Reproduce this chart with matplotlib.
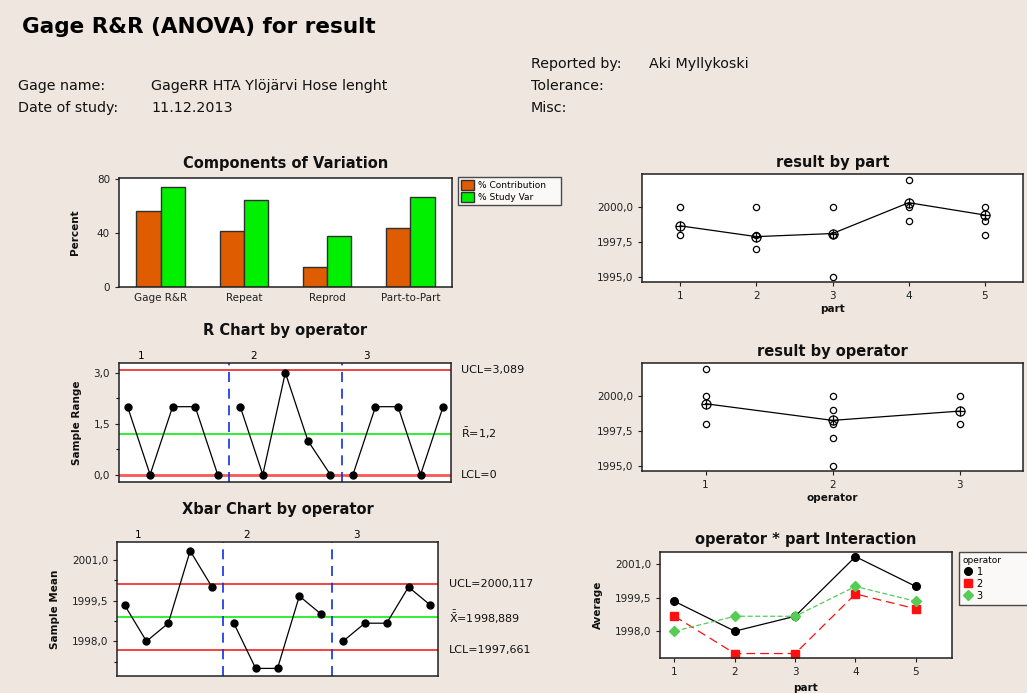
import numpy as np
import matplotlib
matplotlib.use("Agg")
import matplotlib.pyplot as plt
from matplotlib.ticker import FixedLocator, FuncFormatter, NullLocator
from matplotlib.lines import Line2D

plt.rcParams['font.family'] = ['DejaVu Sans']
plt.rcParams['mathtext.fontset'] = 'dejavusans'
plt.rcParams['mathtext.default'] = 'regular'

# ---------------- data ----------------
components = ["Gage R&R", "Repeat", "Reprod", "Part-to-Part"]
pct_contribution = [56.3, 41.4, 14.7, 43.4]
pct_study_var = [74.0, 64.1, 37.4, 66.1]

parts = [1, 2, 3, 4, 5]
operators = [1, 2, 3]
# measurements per operator: one list of 3 trials for each part
op1_values = [[1998, 2000, 2000], [1998, 1998, 1998], [1998, 1998, 2000], [2000, 2002, 2002], [2000, 2000, 2000]]
op2_values = [[1998, 1998, 2000], [1997, 1997, 1997], [1995, 1998, 1998], [1999, 2000, 2000], [1999, 1999, 1999]]
op3_values = [[1998, 1998, 1998], [1998, 1998, 2000], [1998, 1998, 2000], [2000, 2000, 2000], [1998, 2000, 2000]]

r_ucl, r_bar, r_lcl = 3.089, 1.2, 0.0
x_ucl, x_dbar, x_lcl = 2000.117, 1998.889, 1997.661

# ---------------- derived ----------------
meas = np.array([op1_values, op2_values, op3_values], dtype=float)  # op, part, trial
cell_means = meas.mean(axis=2)
cell_ranges = meas.max(axis=2) - meas.min(axis=2)

BG = '#eee6df'
W, H = 1027, 693
fig = plt.figure(figsize=(W / 100, H / 100), dpi=100, facecolor=BG)


def px_axes(x0, y0, x1, y1):
    ax = fig.add_axes([x0 / W, 1 - y1 / H, (x1 - x0) / W, (y1 - y0) / H])
    ax.set_facecolor('white')
    for s in ax.spines.values():
        s.set_linewidth(1.1)
        s.set_color('#202020')
    ax.tick_params(direction='out', length=3, width=0.8, labelsize=7.5, colors='#202020')
    return ax


def comma(v, d):
    return f"{v:.{d}f}".replace('.', ',')


TITLE_KW = dict(fontsize=10.5, fontweight='bold', color='#111111')
LAB_KW = dict(fontsize=7.5, fontweight='bold', color='#111111')

# ---------------- header ----------------
fig.text(22 / W, 1 - 27 / H, "Gage R&R (ANOVA) for result", fontsize=15.5, fontweight='bold', va='center', ha='left')
hdr = dict(fontsize=10.3, va='center', ha='left', color='#111111')
fig.text(531 / W, 1 - 64 / H, "Reported by:", **hdr)
fig.text(649 / W, 1 - 64 / H, "Aki Myllykoski", **hdr)
fig.text(18 / W, 1 - 86 / H, "Gage name:", **hdr)
fig.text(151 / W, 1 - 86 / H, "GageRR HTA Ylöjärvi Hose lenght", **hdr)
fig.text(531 / W, 1 - 86 / H, "Tolerance:", **hdr)
fig.text(18 / W, 1 - 108 / H, "Date of study:", **hdr)
fig.text(151 / W, 1 - 108 / H, "11.12.2013", **hdr)
fig.text(531 / W, 1 - 108 / H, "Misc:", **hdr)

# ---------------- Components of Variation ----------------
ax = px_axes(119, 178, 452, 287)
x = np.arange(len(components))
bw = 0.29
ax.bar(x - bw / 2, pct_contribution, width=bw, color='#e05c00', edgecolor='#303030', linewidth=1.0,
       label='% Contribution')
ax.bar(x + bw / 2, pct_study_var, width=bw, color='#00f000', edgecolor='#303030', linewidth=1.0,
       label='% Study Var')
ax.set_xlim(-0.5, 3.5)
ax.set_ylim(0, 80.5)
ax.set_xticks(x)
ax.set_xticklabels(components)
ax.set_yticks([0, 40, 80])
ax.tick_params(axis='x', length=0, pad=4)
ax.set_ylabel("Percent", labelpad=12, **LAB_KW)
ax.set_title("Components of Variation", pad=7, **TITLE_KW)
leg = ax.legend(loc='upper left', bbox_to_anchor=(458 / W, 1 - 177 / H, 103 / W, 0.0001),
                bbox_transform=fig.transFigure, mode='expand', fontsize=6.5, frameon=True,
                fancybox=False, edgecolor='#202020', handlelength=1.4, handleheight=1.3,
                borderpad=0.35, labelspacing=0.25, handletextpad=0.5, borderaxespad=0)
leg.get_frame().set_linewidth(1.0)

# ---------------- R chart ----------------
samples = np.arange(1, cell_ranges.size + 1)
ax = px_axes(119, 363, 451, 482)
ax.set_xlim(0.62, 15.35)
ax.set_ylim(-0.215, 3.285)
ax.axhline(r_ucl, color='#ee1111', lw=1.1)
ax.axhline(r_bar, color='#22ee22', lw=1.3)
ax.axhline(r_lcl, color='#ff5555', lw=2.0)
for b in [5.5, 10.5]:
    ax.axvline(b, color='#1030e0', lw=1.2, ls=(0, (6, 4)))
for i in range(3):
    ax.plot(samples[i * 5:(i + 1) * 5], cell_ranges[i], color='black', lw=0.9, marker='o', ms=5)
    ax.text(1.6 + 5 * i, 1.015, str(operators[i]), transform=ax.get_xaxis_transform(), fontsize=7.5,
            ha='center', va='bottom')
ax.yaxis.set_major_locator(FixedLocator([0, 1.5, 3.0]))
ax.yaxis.set_minor_locator(FixedLocator([0.75, 2.25]))
ax.yaxis.set_major_formatter(FuncFormatter(lambda v, p: comma(v, 1)))
ax.tick_params(axis='y', which='minor', length=2, width=0.8)
ax.xaxis.set_major_locator(NullLocator())
ax.set_ylabel("Sample Range", labelpad=8, **LAB_KW)
ax.set_title("R Chart by operator", pad=20, **TITLE_KW)
for val, txt in [(r_ucl, f"UCL={comma(r_ucl, 3)}"), (r_bar, r"$\bar{R}$=" + comma(r_bar, 1)),
                 (r_lcl, f"LCL={comma(r_lcl, 0)}")]:
    ax.annotate(txt, xy=(1, val), xycoords=('axes fraction', 'data'), xytext=(7, 0),
                textcoords='offset points', fontsize=8, va='center', ha='left', color='#111111')

# ---------------- Xbar chart ----------------
ax = px_axes(117, 542, 438, 676)
ax.set_xlim(0.65, 15.35)
ax.set_ylim(1996.72, 2001.66)
ax.axhline(x_ucl, color='#ee1111', lw=1.1)
ax.axhline(x_dbar, color='#22ee22', lw=1.3)
ax.axhline(x_lcl, color='#ee1111', lw=1.1)
for b in [5.5, 10.5]:
    ax.axvline(b, color='#1030e0', lw=1.2, ls=(0, (6, 4)))
for i in range(3):
    ax.plot(samples[i * 5:(i + 1) * 5], cell_means[i], color='black', lw=0.9, marker='o', ms=5)
    ax.text(1.6 + 5 * i, 1.015, str(operators[i]), transform=ax.get_xaxis_transform(), fontsize=7.5,
            ha='center', va='bottom')
ax.yaxis.set_major_locator(FixedLocator([1998.0, 1999.5, 2001.0]))
ax.yaxis.set_minor_locator(FixedLocator([1997.25, 1998.75, 2000.25]))
ax.yaxis.set_major_formatter(FuncFormatter(lambda v, p: comma(v, 1)))
ax.tick_params(axis='y', which='minor', length=2, width=0.8)
ax.xaxis.set_major_locator(NullLocator())
ax.set_ylabel("Sample Mean", labelpad=8, **LAB_KW)
ax.set_title("Xbar Chart by operator", pad=20, **TITLE_KW)
for val, txt in [(x_ucl, f"UCL={comma(x_ucl, 3)}"), (x_dbar, r"$\bar{\bar{X}}$=" + comma(x_dbar, 3)),
                 (x_lcl, f"LCL={comma(x_lcl, 3)}")]:
    ax.annotate(txt, xy=(1, val), xycoords=('axes fraction', 'data'), xytext=(8, 0),
                textcoords='offset points', fontsize=8, va='center', ha='left', color='#111111')


# ---------------- result by part / operator ----------------
def by_group(ax, groups, group_data, xlabel, title):
    means = []
    for g, vals in zip(groups, group_data):
        u = np.unique(vals)
        ax.plot(np.full(u.size, g), u, ls='none', marker='o', ms=4.5, mfc='white', mec='black', mew=0.9)
        means.append(np.mean(vals))
    ax.plot(groups, means, color='black', lw=0.9)
    ax.plot(groups, means, ls='none', marker='o', ms=6.5, mfc='none', mec='black', mew=0.9)
    ax.plot(groups, means, ls='none', marker='+', ms=6.5, mec='black', mew=0.9)
    ax.set_xlim(groups[0] - 0.5, groups[-1] + 0.5)
    ax.set_ylim(1994.62, 2002.4)
    ax.yaxis.set_major_locator(FixedLocator([1995.0, 1997.5, 2000.0]))
    ax.yaxis.set_major_formatter(FuncFormatter(lambda v, p: comma(v, 1)))
    ax.set_xticks(groups)
    ax.set_xlabel(xlabel, labelpad=2, **LAB_KW)
    ax.set_title(title, pad=5, **TITLE_KW)


ax = px_axes(642, 174, 1023, 282)
by_group(ax, parts, [meas[:, p, :].ravel() for p in range(len(parts))], "part", "result by part")
ax = px_axes(642, 363, 1023, 471)
by_group(ax, operators, [meas[o].ravel() for o in range(len(operators))], "operator", "result by operator")

# ---------------- interaction ----------------
ax = px_axes(660, 552, 952, 658)
styles = [dict(color='black', ls='-', marker='o', ms=5.5),
          dict(color='#ff1010', ls=(0, (7, 4)), marker='s', ms=5.5),
          dict(color='#55cc55', ls=(0, (4, 2)), marker='D', ms=5)]
for i, op in enumerate(operators):
    st = styles[i]
    ax.plot(parts, cell_means[i], color=st['color'], ls=st['ls'], lw=0.9)
    ax.plot(parts, cell_means[i], ls='none', marker=st['marker'], ms=st['ms'], color=st['color'])
ax.set_xlim(0.76, 5.6)
ax.set_ylim(1996.8, 2001.54)
ax.yaxis.set_major_locator(FixedLocator([1998.0, 1999.5, 2001.0]))
ax.yaxis.set_major_formatter(FuncFormatter(lambda v, p: comma(v, 1)))
ax.set_xticks(parts)
ax.set_xlabel("part", labelpad=4, **LAB_KW)
ax.set_ylabel("Average", labelpad=8, **LAB_KW)
ax.set_title("operator * part Interaction", pad=6, **TITLE_KW)
handles = [Line2D([], [], ls='none', marker=s['marker'], ms=s['ms'], color=s['color']) for s in styles]
leg = ax.legend(handles, [str(o) for o in operators], title="operator", loc='upper left',
                bbox_to_anchor=(959 / W, 1 - 552 / H, 90 / W, 0.0001), bbox_transform=fig.transFigure,
                mode='expand', fontsize=7, title_fontsize=6.5, frameon=True, fancybox=False,
                edgecolor='#202020', handlelength=1.0, borderpad=0.4, labelspacing=0.2,
                handletextpad=0.4, borderaxespad=0, alignment='left')
leg.get_frame().set_linewidth(1.0)

fig.savefig("out.png", dpi=100, facecolor=BG)
